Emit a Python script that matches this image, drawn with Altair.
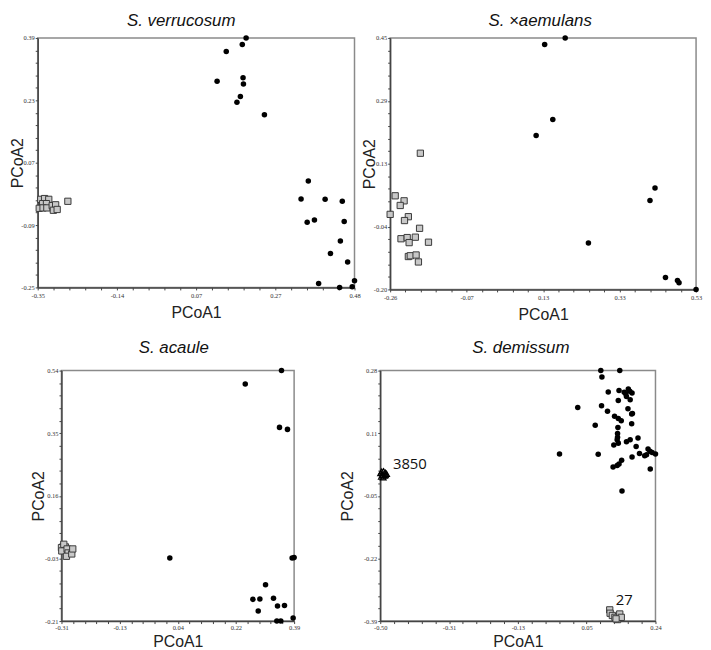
import altair as alt
import pandas as pd
import numpy as np

# ---------------- data ----------------
# Panel 1: S. verrucosum
verr_circ_x = [0.196, 0.186, 0.144, 0.120, 0.188, 0.189, 0.181, 0.172, 0.244, 0.359, 0.340, 0.403,
               0.448, 0.375, 0.356, 0.453, 0.443, 0.417, 0.462, 0.480, 0.386, 0.474, 0.441]
verr_circ_y = [0.390, 0.373, 0.355, 0.279, 0.288, 0.272, 0.240, 0.225, 0.193, 0.023, -0.023, -0.024,
               -0.029, -0.077, -0.083, -0.081, -0.131, -0.163, -0.185, -0.233, -0.240, -0.248, -0.250]
verr_sq_x = [-0.342, -0.332, -0.321, -0.337, -0.327, -0.346, -0.336, -0.326, -0.312, -0.303, -0.309, -0.299, -0.271]
verr_sq_y = [-0.024, -0.022, -0.024, -0.035, -0.035, -0.047, -0.046, -0.046, -0.040, -0.038, -0.052, -0.050, -0.029]
verr_xticks = ['-0.35', '-0.14', '0.07', '0.27', '0.48']
verr_yticks = ['-0.25', '-0.09', '0.07', '0.23', '0.39']

# Panel 2: S. xaemulans
aem_circ_x = [0.192, 0.139, 0.160, 0.117, 0.424, 0.411, 0.252, 0.451, 0.482, 0.486, 0.530]
aem_circ_y = [0.450, 0.433, 0.239, 0.198, 0.062, 0.030, -0.080, -0.169, -0.177, -0.183, -0.200]
aem_sq_x = [-0.182, -0.247, -0.224, -0.234, -0.260, -0.213, -0.223, -0.184, -0.232, -0.216, -0.195,
            -0.211, -0.161, -0.213, -0.208, -0.193, -0.187]
aem_sq_y = [0.152, 0.042, 0.029, 0.017, -0.006, -0.012, -0.022, -0.042, -0.069, -0.066, -0.065,
            -0.079, -0.078, -0.115, -0.113, -0.111, -0.129]
aem_xticks = ['-0.26', '-0.07', '0.13', '0.33', '0.53']
aem_yticks = ['-0.20', '-0.04', '0.13', '0.29', '0.45']

# Panel 3: S. acaule
aca_circ_x = [0.352, 0.243, 0.346, 0.370, 0.016, 0.384, 0.390, 0.304, 0.266, 0.287, 0.328, 0.340,
              0.361, 0.282, 0.387, 0.338, 0.350]
aca_circ_y = [0.540, 0.500, 0.370, 0.364, -0.021, -0.021, -0.020, -0.101, -0.145, -0.144, -0.142,
              -0.165, -0.163, -0.180, -0.201, -0.210, -0.210]
aca_sq_x = [-0.305, -0.310, -0.298, -0.303, -0.309, -0.293, -0.290, -0.295, -0.279, -0.276]
aca_sq_y = [0.013, 0.010, 0.012, 0.020, 0.000, 0.006, -0.006, -0.016, -0.009, 0.006]
aca_xticks = ['-0.31', '-0.13', '0.04', '0.22', '0.39']
aca_yticks = ['-0.21', '-0.03', '0.16', '0.35', '0.54']

# Panel 4: S. demissum
dem_circ_x = [0.093, 0.144, 0.096, 0.113, 0.142, 0.156, 0.167, 0.171, 0.177, 0.160, 0.162, 0.140,
              0.172, 0.031, 0.095, 0.111, 0.166, 0.178, 0.176, 0.130, 0.140, 0.148, 0.176, 0.078,
              0.139, 0.138, 0.138, 0.193, 0.137, 0.172, 0.162, 0.128, 0.140, 0.188, 0.197, 0.177,
              0.220, 0.225, 0.231, 0.240, 0.211, 0.216, 0.086, -0.018, 0.149, 0.142, 0.137, 0.126,
              0.226, 0.150]
dem_circ_y = [0.280, 0.280, 0.263, 0.223, 0.227, 0.222, 0.231, 0.225, 0.220, 0.218, 0.211, 0.200,
              0.202, 0.181, 0.186, 0.171, 0.178, 0.165, 0.164, 0.158, 0.152, 0.146, 0.138, 0.134,
              0.128, 0.112, 0.102, 0.100, 0.095, 0.095, 0.090, 0.081, 0.086, 0.077, 0.058, 0.049,
              0.070, 0.064, 0.061, 0.057, 0.052, 0.055, 0.056, 0.057, 0.040, 0.030, 0.026, 0.022,
              0.017, -0.042]
dem_sq_x = [0.117, 0.118, 0.124, 0.131, 0.138, 0.144, 0.148, 0.134]
dem_sq_y = [-0.360, -0.369, -0.375, -0.380, -0.386, -0.371, -0.380, -0.384]
dem_tri_x = [-0.499, -0.496, -0.491, -0.486, -0.483, -0.494, -0.489, -0.497, -0.492, -0.486]
dem_tri_y = [0.006, 0.010, 0.011, 0.007, 0.004, 0.001, -0.001, -0.004, -0.006, 0.000]
dem_note_text = ['3850', '27']
dem_note_x = [-0.466, 0.133]
dem_note_y = [0.031, -0.333]
dem_xticks = ['-0.50', '-0.31', '-0.13', '0.05', '0.24']
dem_yticks = ['-0.39', '-0.22', '-0.05', '0.11', '0.28']


# ---------------- helpers ----------------
def make_axis(ticks, title, title_padding, label_padding):
    lo, hi = float(ticks[0]), float(ticks[-1])
    vals = [float(v) for v in np.linspace(lo, hi, 21)]
    step = (hi - lo) / 20.0
    arr = "[" + ",".join("'%s'" % t for t in ticks) + "]"
    idx = "round((datum.value - (%r)) / %r)" % (lo, step)
    expr = "(%s %% 5 == 0) ? %s[%s / 5] : ''" % (idx, arr, idx)
    return alt.Axis(values=vals, labelExpr=expr, title=title, titlePadding=title_padding,
                    labelPadding=label_padding)


def panel(title, dx, toffset, circ_x, circ_y, sq_x, sq_y, xticks, yticks, w, h,
          ytp, xtp, xlp, tri=None, notes=None):
    xs = alt.Scale(domain=[float(xticks[0]), float(xticks[-1])], nice=False, zero=False)
    ys = alt.Scale(domain=[float(yticks[0]), float(yticks[-1])], nice=False, zero=False)
    X = alt.X("x:Q", scale=xs, axis=make_axis(xticks, "PCoA1", xtp, xlp))
    Y = alt.Y("y:Q", scale=ys, axis=make_axis(yticks, "PCoA2", ytp, 1))

    sq = alt.Chart(pd.DataFrame({"x": sq_x, "y": sq_y})).mark_square(
        size=40, fill="#c8c8c8", stroke="#3a3a3a", strokeWidth=1, opacity=1, fillOpacity=1
    ).encode(x=X, y=Y)
    ci = alt.Chart(pd.DataFrame({"x": circ_x, "y": circ_y})).mark_circle(
        size=31, color="black", opacity=1
    ).encode(x=X, y=Y)
    layers = [sq, ci]
    if tri is not None:
        layers.append(alt.Chart(pd.DataFrame({"x": tri[0], "y": tri[1]})).mark_point(
            shape="triangle-up", size=34, filled=False, stroke="black", strokeWidth=1.2, opacity=1
        ).encode(x=X, y=Y))
    if notes is not None:
        nd = pd.DataFrame({"x": notes[1], "y": notes[2], "t": notes[0]})
        layers.append(alt.Chart(nd).mark_text(
            font="Open Sans", fontSize=15, color="#111", align="left", baseline="middle"
        ).encode(x=X, y=Y, text="t:N"))
    return alt.layer(*layers).properties(
        width=w, height=h,
        title=alt.TitleParams(text=title, offset=toffset, dx=dx, frame="group", anchor="middle"),
    )


p1 = panel("S. verrucosum", -15, 5, verr_circ_x, verr_circ_y, verr_sq_x, verr_sq_y,
           verr_xticks, verr_yticks, 320, 252, -4.5, 5, 3)
p2 = panel("S.  \u00d7aemulans", -3, 5, aem_circ_x, aem_circ_y, aem_sq_x, aem_sq_y,
           aem_xticks, aem_yticks, 309, 254, -4.5, 5, 3)
p3 = panel("S. acaule", -4, 11, aca_circ_x, aca_circ_y, aca_sq_x, aca_sq_y,
           aca_xticks, aca_yticks, 235, 253, -1.6, 3, 1)
p4 = panel("S. demissum", 3, 11, dem_circ_x, dem_circ_y, dem_sq_x, dem_sq_y,
           dem_xticks, dem_yticks, 278, 253, 8.4, 3, 1,
           tri=(dem_tri_x, dem_tri_y),
           notes=(dem_note_text, dem_note_x, dem_note_y))

spacer = alt.Chart(pd.DataFrame({"s": [0]})).mark_point(opacity=0).encode(
    x=alt.value(0), y=alt.value(0)
).properties(width=24, height=10, view=alt.ViewBackground(strokeOpacity=0))

row1 = alt.hconcat(p1, p2, spacing=36, bounds="flush")
left2 = alt.hconcat(spacer, p3, spacing=0, bounds="flush")
row2 = alt.hconcat(left2, p4, spacing=37)

chart = alt.vconcat(row1, row2, spacing=15).properties(
    padding=0
).configure_view(
    stroke="#8a8a8a", strokeWidth=1.5
).configure_axis(
    grid=False,
    labelFont="Liberation Serif", labelFontSize=6.5, labelColor="#333",
    tickSize=2.5, tickColor="#444", tickWidth=1,
    domainColor="#444", domainWidth=1.5,
    titleFont="Liberation Sans", titleFontSize=16, titleFontWeight="normal", titleColor="#222",
    labelFlush=False, labelOverlap=False,
).configure_title(
    font="Liberation Sans", fontSize=17, fontStyle="italic", fontWeight="normal", color="#111"
)

chart.save("out.html", embed_options={"renderer": "svg", "actions": False})
